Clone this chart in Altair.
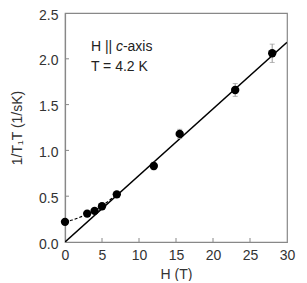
import altair as alt
import pandas as pd

H = [0, 3, 4, 5, 7, 12, 15.5, 23, 28]
rate = [0.22, 0.31, 0.34, 0.39, 0.52, 0.83, 1.18, 1.66, 2.06]
err = [0, 0, 0, 0, 0, 0.04, 0.05, 0.07, 0.10]

fit_H = [0, 30]
fit_rate = [0.0, 2.18]

curve_H = [0, 1, 2, 3, 4, 5, 6, 7]
curve_rate = [0.22, 0.24, 0.27, 0.305, 0.345, 0.395, 0.455, 0.52]

x_ticks = [5, 10, 15, 20, 25]
y_ticks = [0.5, 1.0, 1.5, 2.0]
x_labels = [0, 5, 10, 15, 20, 25, 30]
y_labels = [0, 0.5, 1.0, 1.5, 2.0, 2.5]

W, Hh = 222, 229
FONT = "Liberation Sans"

pts = pd.DataFrame({"H": H, "r": rate, "lo": [r - e for r, e in zip(rate, err)],
                    "hi": [r + e for r, e in zip(rate, err)], "e": err})
xs = alt.Scale(domain=[0, 30], nice=False)
ys = alt.Scale(domain=[0, 2.5], nice=False)

xax = alt.Axis(title="H (T)", values=x_labels, tickSize=0, labelPadding=6,
               titlePadding=5, grid=False, labelOverlap=False)
yax = alt.Axis(title="1/T\u2081T (1/sK)", values=y_labels, format=".1f",
               tickSize=0, labelPadding=7, titlePadding=14, grid=False, labelOverlap=False,
               labelOffset=2)


def X(f):
    return alt.X(f, scale=xs, axis=xax)


def Y(f):
    return alt.Y(f, scale=ys, axis=yax)


base = alt.Chart(pts)

fit = alt.Chart(pd.DataFrame({"H": fit_H, "r": fit_rate})).mark_line(
    color="black", strokeWidth=1.5, clip=True).encode(x=X("H:Q"), y=Y("r:Q"))

curve = alt.Chart(pd.DataFrame({"H": curve_H, "r": curve_rate})).mark_line(
    color="black", strokeWidth=1.2, strokeDash=[3, 2], interpolate="monotone").encode(
    x=X("H:Q"), y=Y("r:Q"))

ebars = base.transform_filter("datum.e > 0").mark_rule(color="#999", strokeWidth=1).encode(
    x=X("H:Q"), y=Y("lo:Q"), y2="hi:Q")
ecaps_lo = base.transform_filter("datum.e > 0").mark_tick(
    color="#999", orient="horizontal", size=5, thickness=1).encode(
    x=X("H:Q"), y=Y("lo:Q"))
ecaps_hi = base.transform_filter("datum.e > 0").mark_tick(
    color="#999", orient="horizontal", size=5, thickness=1).encode(
    x=X("H:Q"), y=Y("hi:Q"))

dots = base.mark_circle(color="black", size=70, opacity=1).encode(
    x=X("H:Q"), y=Y("r:Q"))

xt = alt.Chart(pd.DataFrame({"H": x_ticks})).mark_rule(color="#888").encode(
    x=X("H:Q"), y=alt.value(Hh), y2=alt.value(Hh - 4))
yt = alt.Chart(pd.DataFrame({"r": y_ticks})).mark_rule(color="#888").encode(
    y=Y("r:Q"), x=alt.value(0), x2=alt.value(4))

ann = pd.DataFrame({"H": [3.5, 3.5, 3.5, 3.5], "r": [2.13, 2.13, 2.13, 1.91],
                    "t": ["H || ", "c", "-axis", "T = 4.2 K"],
                    "dx": [0, 25, 32, 0], "st": ["normal", "italic", "normal", "normal"]})
texts = []
for i, row in ann.iterrows():
    texts.append(alt.Chart(pd.DataFrame([row])).mark_text(
        align="left", baseline="middle", font=FONT, fontSize=14, color="#222",
        dx=int(row["dx"]), fontStyle=row["st"]).encode(
        x=X("H:Q"), y=Y("r:Q"), text="t:N"))

chart = alt.layer(fit, curve, ebars, ecaps_lo, ecaps_hi, dots, xt, yt, *texts).properties(
    width=W, height=Hh, background="white",
    autosize=alt.AutoSizeParams(type="none"),
    padding={"left": 57, "top": 5, "right": 12, "bottom": 39}).configure_view(
    stroke="#888", strokeWidth=1.2).configure_axis(
    labelFont=FONT, titleFont=FONT, labelFontSize=14, titleFontSize=14,
    labelColor="#333", titleColor="#333", titleFontWeight="normal",
    domainColor="#888", domainWidth=1.2).configure_axisY(labelFlush=False).configure_axisX(labelFlush=False)

chart.save("out.html", embed_options={"renderer": "svg", "actions": False})
